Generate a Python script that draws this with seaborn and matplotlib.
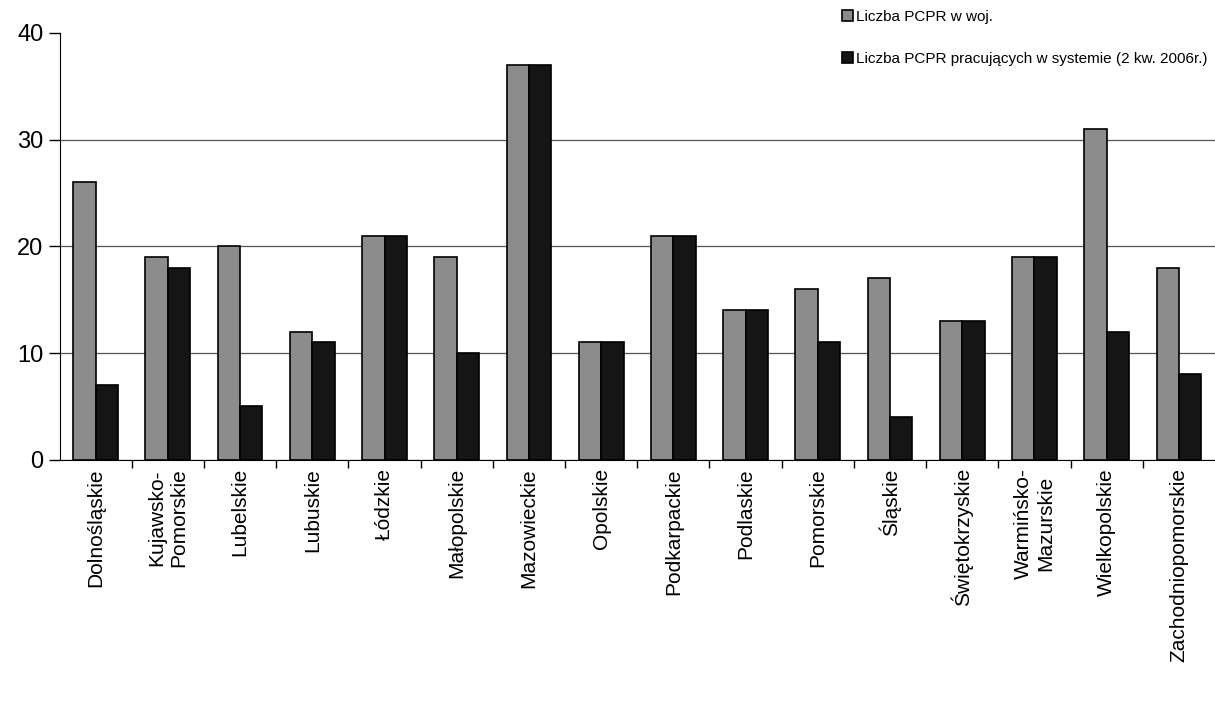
import pandas as pd
import numpy as np
import seaborn as sns
import matplotlib.pyplot as plt
from matplotlib.ticker import FixedLocator

regions = ['Dolnośląskie', 'Kujawsko-\nPomorskie', 'Lubelskie', 'Lubuskie', 'Łódzkie',
           'Małopolskie', 'Mazowieckie', 'Opolskie', 'Podkarpackie', 'Podlaskie',
           'Pomorskie', 'Śląskie', 'Świętokrzyskie', 'Warmińsko-\nMazurskie',
           'Wielkopolskie', 'Zachodniopomorskie']
pcpr_total = [26, 19, 20, 12, 21, 19, 37, 11, 21, 14, 16, 17, 13, 19, 31, 18]
pcpr_system = [7, 18, 5, 11, 21, 10, 37, 11, 21, 14, 11, 4, 13, 19, 12, 8]
series = ['Liczba PCPR w woj.', 'Liczba PCPR pracujących w systemie (2 kw. 2006r.)']

df = pd.DataFrame({
    'region': regions * 2,
    'value': pcpr_total + pcpr_system,
    'series': [series[0]] * len(regions) + [series[1]] * len(regions),
})

sns.set_style('white')
plt.rcParams['font.family'] = ['Liberation Sans', 'DejaVu Sans']
plt.rcParams['text.color'] = 'black'
plt.rcParams['xtick.color'] = 'black'
plt.rcParams['ytick.color'] = 'black'

fig = plt.figure(figsize=(12.15, 7.01), dpi=100)
ax = fig.add_axes([0.049, 0.344, 0.951, 0.609])
sns.barplot(data=df, x='region', y='value', hue='series',
            palette=['#8c8c8c', '#151515'], width=0.62,
            edgecolor='black', linewidth=1.2, saturation=1, ax=ax)

ax.set_ylim(0, 40)
ax.set_xlim(-0.5, len(regions) - 0.5)
ax.set_yticks([0, 10, 20, 30, 40])
ax.tick_params(axis='y', labelsize=17, length=8, width=1, direction='out', left=True)
ax.yaxis.grid(True, color='#555555', linewidth=0.9)
ax.get_ygridlines()[-1].set_visible(False)
ax.set_axisbelow(True)

# category labels at centres, tick marks at boundaries
ax.tick_params(axis='x', which='major', length=0, labelsize=15, rotation=90, pad=6)
ax.xaxis.set_minor_locator(FixedLocator(np.arange(0.5, len(regions) - 0.5, 1)))
ax.tick_params(axis='x', which='minor', length=6, width=1, direction='out', bottom=True)
for lbl in ax.get_xticklabels():
    lbl.set_verticalalignment('top')
    lbl.set_multialignment('center')

ax.set_xlabel('')
ax.set_ylabel('')
for s in ['top', 'right']:
    ax.spines[s].set_visible(False)
ax.spines['left'].set_color('black')
ax.spines['bottom'].set_color('black')

ax.legend(loc='upper left', bbox_to_anchor=(0.677, 1.054), frameon=False,
          fontsize=11, handlelength=0.75, handleheight=0.75, handletextpad=0.2,
          labelspacing=1.85, borderpad=0, borderaxespad=0)

fig.savefig('out.png', dpi=100)
